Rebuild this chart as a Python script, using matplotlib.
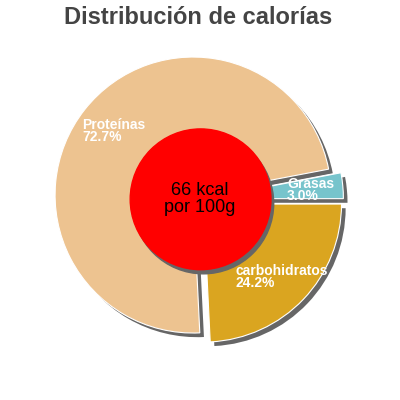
import matplotlib
matplotlib.use("Agg")
import matplotlib.pyplot as plt
from matplotlib.patches import Circle

# Données du graphique
categorias = ["Grasas", "Proteínas", "carbohidratos"]
porcentajes = [3.0, 72.7, 24.2]
colores = ["#77C4CC", "#EDC390", "#DAA520"]
separacion = [0.05, 0.05, 0.05]
energia = "66 kcal\npor 100g"
titulo = "Distribución de calorías"

# Position des étiquettes (pixels depuis le coin haut gauche)
pos_etiquettes = [(287, 177), (82, 118), (235, 264)]

plt.rcParams['font.family'] = ['Liberation Sans', 'DejaVu Sans']

fig = plt.figure(figsize=(4, 4), dpi=100)
ax = fig.add_axes([0, 0, 1, 1])

# ombre
ax.pie(porcentajes, colors=["#666666"] * 3, explode=separacion, startangle=0,
       counterclock=True, center=(0.03, -0.03), radius=1.0,
       wedgeprops={"linewidth": 0, "zorder": 1})
# secteurs
ax.pie(porcentajes, colors=colores, explode=separacion, startangle=0,
       counterclock=True, center=(0, 0), radius=1.0,
       wedgeprops={"linewidth": 0.8, "edgecolor": "white", "zorder": 2})

# cercle central
ax.add_patch(Circle((0.035, -0.03), 0.51, color="#666666", zorder=3))
ax.add_patch(Circle((0.015, 0.0), 0.51, color="#FF0000", zorder=4))
ax.text(0.01, 0.0, energia, ha="center", va="center", fontsize=13,
        color="black", zorder=5, linespacing=1.0)

ax.set_xlim(-198.5 / 138, 201.5 / 138)
ax.set_ylim(-200.7 / 138, 199.3 / 138)
ax.set_aspect("equal")
ax.axis("off")

for nom, pct, (px, py) in zip(categorias, porcentajes, pos_etiquettes):
    fig.text(px / 400, 1 - py / 400, f"{nom}\n{pct:.1f}%", ha="left", va="top",
             fontsize=10, color="white", fontweight="bold", linespacing=0.85,
             zorder=6)

fig.text(198 / 400, 1 - 18 / 400, titulo, ha="center", va="center",
         fontsize=17, fontweight="bold", color="#444444")

fig.savefig("out.png", dpi=100)
